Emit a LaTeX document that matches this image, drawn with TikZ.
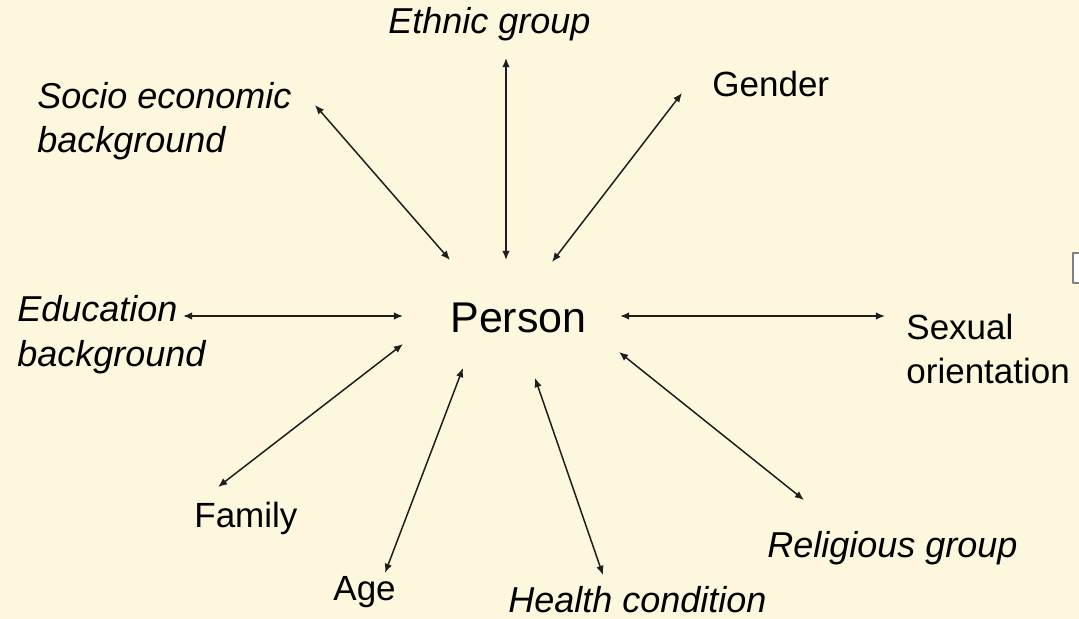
\documentclass[tikz,border=0pt]{standalone}
\usepackage{fontspec}
\setmainfont{Liberation Sans}
\usetikzlibrary{arrows.meta}
\definecolor{cream}{RGB}{253,247,222}
\definecolor{ink}{RGB}{30,30,30}
\begin{document}
\begin{tikzpicture}[x=0.5pt, y=-0.5pt, line join=round, line cap=round,
    >={Latex[length=4.6pt,width=3.8pt]},
    lbl/.style={font=\fontsize{17.5}{22}\selectfont, anchor=base west, inner sep=0pt, align=left},
    ilbl/.style={lbl, font=\fontsize{18}{22}\selectfont\itshape},
    link/.style={<->, draw=ink, line width=0.75pt}]
    % page and background
    \fill[cream] (0,0) rectangle (1079,619);
    \useasboundingbox (0,0) rectangle (1079,619);
    \clip (0,0) rectangle (1079,619);
    \draw[gray, line width=1pt, fill=white] (1073,253) rectangle (1095,283);
    % centre
    \node[font=\fontsize{21.5}{26}\selectfont, anchor=base west, inner sep=0pt] (person) at (450,333) {Person};
    % labels round it (two-line ones sit on their last baseline)
    \node[ilbl] (eth) at (388,34) {Ethnic group};
    \node[ilbl] (soc) at (37,153) {Socio economic\\background};
    \node[lbl] (gen) at (712,97) {Gender};
    \node[ilbl] (edu) at (17,366) {Education\\background};
    \node[lbl] (sex) at (906,384) {Sexual\\orientation};
    \node[lbl] (fam) at (194,527) {Family};
    \node[lbl] (age) at (333,600) {Age};
    \node[ilbl] (hea) at (508,612) {Health condition};
    \node[ilbl] (rel) at (767,557) {Religious group};
    % arrow ends
    \coordinate (eth-o) at (506,58);  \coordinate (eth-i) at (506,260);
    \coordinate (soc-o) at (315,105); \coordinate (soc-i) at (450,260);
    \coordinate (gen-o) at (682,93);  \coordinate (gen-i) at (552,262);
    \coordinate (edu-o) at (183,316); \coordinate (edu-i) at (403,316);
    \coordinate (sex-o) at (885,316); \coordinate (sex-i) at (620,316);
    \coordinate (fam-o) at (218,487); \coordinate (fam-i) at (403,344);
    \coordinate (age-o) at (385,573); \coordinate (age-i) at (463,368);
    \coordinate (hea-o) at (603,575); \coordinate (hea-i) at (535,378);
    \coordinate (rel-o) at (804,500); \coordinate (rel-i) at (619,352);
    \foreach \n in {eth,soc,gen,edu,sex,fam,age,hea,rel}
        \draw[link] (\n-o) -- (\n-i);
\end{tikzpicture}
\end{document}
